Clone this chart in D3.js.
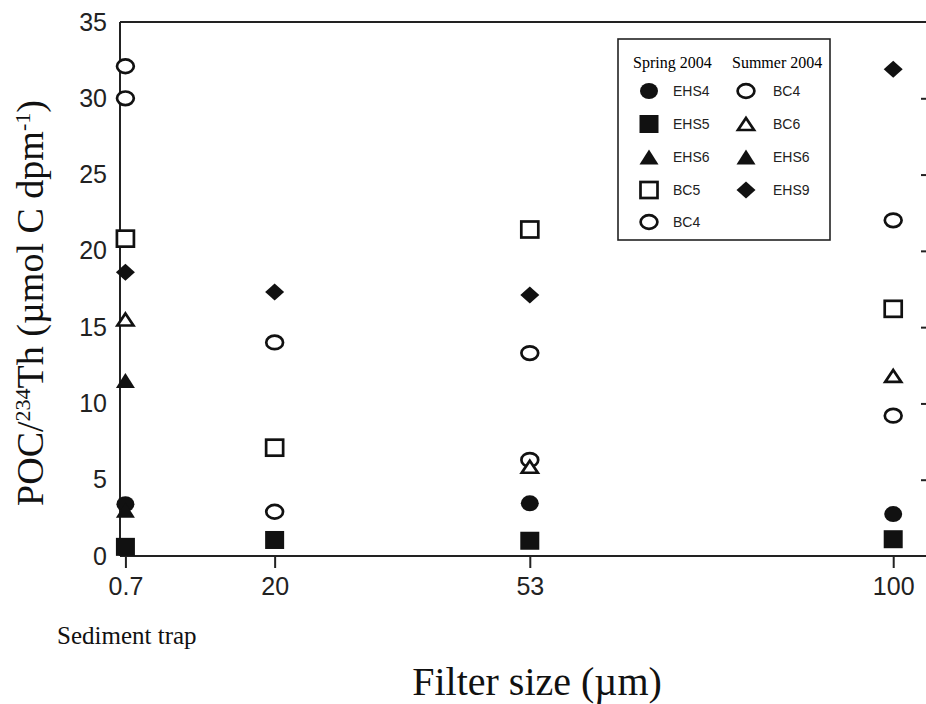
<!DOCTYPE html>
<html><head><meta charset="utf-8">
<script src="https://cdn.jsdelivr.net/npm/d3@7/dist/d3.min.js"></script>
<style>body{margin:0;background:#fff}svg{display:block}</style>
</head><body>
<svg id="c" width="926" height="704"></svg>
<script>
// ---- data ----
const filterSizes = [0.7, 20, 53, 100];
const yTicks = [0, 5, 10, 15, 20, 25, 30, 35];
// Spring 2004
const springEHS4 = [3.4, null, 3.45, 2.75];
const springEHS5 = [0.6, 1.05, 1.0, 1.1];
const springEHS6 = [11.5, null, null, null];
const springBC5  = [20.8, 7.1, 21.4, 16.2];
const springBC4  = [30.0, 2.9, 6.3, 9.2];
// Summer 2004
const summerBC4  = [32.1, 14.0, 13.3, 22.0];
const summerBC6  = [15.5, null, 5.85, 11.8];
const summerEHS6 = [3.0, null, null, null];
const summerEHS9 = [18.6, 17.3, 17.1, 31.9];

const series = [
  {name:"EHS4", season:"spring", shape:"circle",  filled:true,  values:springEHS4},
  {name:"EHS5", season:"spring", shape:"square",  filled:true,  values:springEHS5},
  {name:"EHS6", season:"spring", shape:"triangle",filled:true,  values:springEHS6},
  {name:"BC5",  season:"spring", shape:"square",  filled:false, values:springBC5},
  {name:"BC4",  season:"spring", shape:"circle",  filled:false, values:springBC4},
  {name:"BC4",  season:"summer", shape:"circle",  filled:false, values:summerBC4},
  {name:"BC6",  season:"summer", shape:"triangle",filled:false, values:summerBC6},
  {name:"EHS6", season:"summer", shape:"triangle",filled:true,  values:summerEHS6},
  {name:"EHS9", season:"summer", shape:"diamond", filled:true,  values:summerEHS9}
];

(function () {
// ---- layout ----
const svg = d3.select("#c");
const pLeft = 120, pRight = 928, pTop = 22, pBottom = 556;
const x = d3.scaleLinear().domain([0, 104.5]).range([pLeft, pRight]);
const y = d3.scaleLinear().domain([0, 35]).range([pBottom, pTop]);
const ink = "#111";

function drawMarker(g, shape, filled, cx, cy) {
  const fill = filled ? ink : "#fff";
  const sw = filled ? 0 : 2.7;
  if (shape === "circle") {
    g.append("ellipse").attr("cx", cx).attr("cy", cy)
      .attr("rx", filled ? 9 : 8.4).attr("ry", filled ? 8 : 6.8)
      .attr("fill", fill).attr("stroke", ink).attr("stroke-width", sw);
  } else if (shape === "square") {
    const w = filled ? 19 : 17, h = filled ? 18 : 16;
    g.append("rect").attr("x", cx - w/2).attr("y", cy - h/2).attr("width", w).attr("height", h)
      .attr("fill", fill).attr("stroke", ink).attr("stroke-width", sw);
  } else if (shape === "triangle") {
    const w = filled ? 19 : 16, h = filled ? 15 : 12;
    g.append("path").attr("d", `M${cx},${cy - h/2}L${cx + w/2},${cy + h/2}L${cx - w/2},${cy + h/2}Z`)
      .attr("fill", fill).attr("stroke", ink).attr("stroke-width", sw).attr("stroke-linejoin", "miter");
  } else if (shape === "diamond") {
    const w = 19, h = 17;
    g.append("path").attr("d", `M${cx},${cy - h/2}L${cx + w/2},${cy}L${cx},${cy + h/2}L${cx - w/2},${cy}Z`)
      .attr("fill", fill);
  }
}

// frame lines
const frame = svg.append("g").attr("stroke", "#222").attr("stroke-width", 2).attr("fill", "none");
frame.append("line").attr("x1", pLeft).attr("x2", pLeft).attr("y1", pTop).attr("y2", pBottom);
frame.append("line").attr("x1", pLeft).attr("x2", pRight).attr("y1", pTop).attr("y2", pTop);
frame.append("line").attr("x1", pLeft).attr("x2", pRight).attr("y1", pBottom).attr("y2", pBottom);
frame.append("line").attr("x1", pRight).attr("x2", pRight).attr("y1", pTop).attr("y2", pBottom);

// bottom axis
const xAxis = d3.axisBottom(x).tickValues(filterSizes).tickSize(12).tickPadding(9)
  .tickFormat(d => String(d));
const gx = svg.append("g").attr("transform", `translate(0,${pBottom})`).call(xAxis);
gx.select(".domain").remove();
gx.selectAll(".tick line").attr("stroke", "#222").attr("stroke-width", 2);
gx.selectAll(".tick text").attr("font-family", "Liberation Sans, Arial, sans-serif")
  .attr("font-size", 25).attr("fill", "#222");

// left axis labels
const yAxis = d3.axisLeft(y).tickValues(yTicks).tickSize(0).tickPadding(13);
const gy = svg.append("g").attr("transform", `translate(${pLeft},0)`).call(yAxis);
gy.select(".domain").remove();
gy.selectAll(".tick text").attr("font-family", "Liberation Sans, Arial, sans-serif")
  .attr("font-size", 25).attr("fill", "#222");

// right inward ticks
const yAxisR = d3.axisLeft(y).tickValues(yTicks.slice(1, -1)).tickSize(7).tickFormat("");
const gr = svg.append("g").attr("transform", `translate(${pRight},0)`).call(yAxisR);
gr.select(".domain").remove();
gr.selectAll(".tick line").attr("stroke", "#222").attr("stroke-width", 2);

// data points
const pts = svg.append("g");
series.forEach(s => {
  s.values.forEach((v, i) => {
    if (v == null) return;
    drawMarker(pts, s.shape, s.filled, x(filterSizes[i]), y(v));
  });
});

// legend
const lg = svg.append("g");
lg.append("rect").attr("x", 618).attr("y", 39).attr("width", 212).attr("height", 201)
  .attr("fill", "#fff").attr("stroke", "#222").attr("stroke-width", 1.6);
lg.append("text").attr("x", 633).attr("y", 68).text("Spring 2004")
  .attr("font-family", "Liberation Serif, Times New Roman, serif").attr("font-size", 16);
lg.append("text").attr("x", 732).attr("y", 68).text("Summer 2004")
  .attr("font-family", "Liberation Serif, Times New Roman, serif").attr("font-size", 16);
const rowY = [91, 124, 157, 190, 222];
const springS = series.filter(s => s.season === "spring");
const summerS = series.filter(s => s.season === "summer");
[[springS, 649, 673], [summerS, 746, 773]].forEach(([list, mx, tx]) => {
  list.forEach((s, i) => {
    drawMarker(lg, s.shape, s.filled, mx, rowY[i]);
    lg.append("text").attr("x", tx).attr("y", rowY[i] + 5).text(s.name)
      .attr("font-family", "Liberation Sans, Arial, sans-serif").attr("font-size", 14)
      .attr("fill", "#222");
  });
});

// axis titles
svg.append("text").attr("x", 57).attr("y", 644).text("Sediment trap")
  .attr("font-family", "Liberation Serif, Times New Roman, serif").attr("font-size", 25).attr("fill", "#111");
svg.append("text").attr("x", 537).attr("y", 695).attr("text-anchor", "middle").text("Filter size (µm)")
  .attr("font-family", "Liberation Serif, Times New Roman, serif").attr("font-size", 40).attr("fill", "#111");

const yt = svg.append("text").attr("transform", "translate(43,303) rotate(-90)")
  .attr("text-anchor", "middle")
  .attr("font-family", "Liberation Serif, Times New Roman, serif").attr("font-size", 38).attr("fill", "#111");
yt.append("tspan").text("POC/");
yt.append("tspan").attr("dy", -13).attr("font-size", 22).text("234");
yt.append("tspan").attr("dy", 13).text("Th (µmol C dpm");
yt.append("tspan").attr("dy", -13).attr("font-size", 22).text("-1");
yt.append("tspan").attr("dy", 13).text(")");
})();
</script>
</body></html>
